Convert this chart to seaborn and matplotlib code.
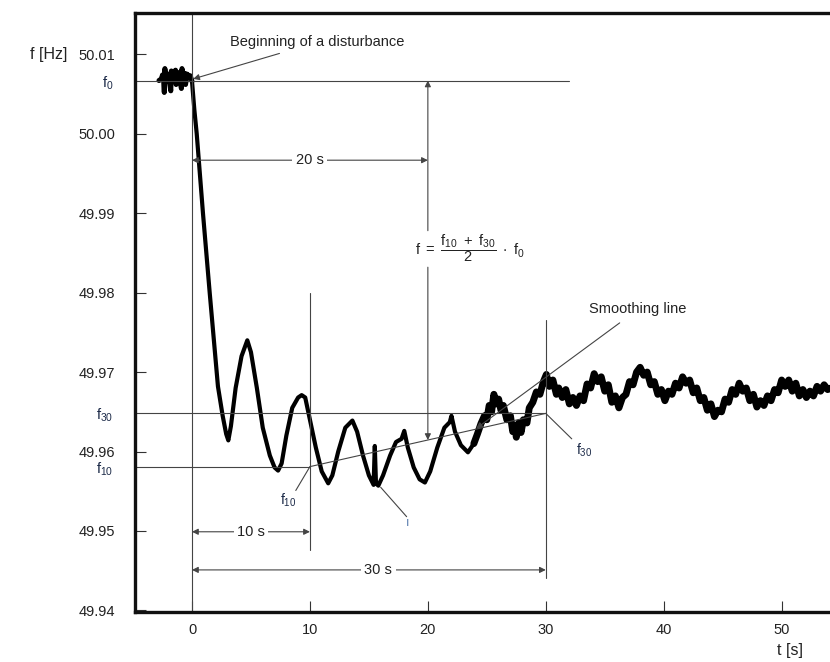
import numpy as np
import pandas as pd
import matplotlib
matplotlib.use("Agg")
import matplotlib.pyplot as plt
import matplotlib.transforms as mtransforms
import seaborn as sns

# ---- data ----
t_s = [-2.8, -2.6, -2.5, -2.4, -2.35, -2.3, -2.2, -2.1, -2.0, -1.9, -1.8, -1.75, -1.6, -1.5,
       -1.4, -1.35, -1.2, -1.1, -1.0, -0.9, -0.85, -0.7, -0.6, -0.55, -0.4, -0.3, -0.15, 0.0,
       0.2, 0.4, 0.93, 1.5, 2.2, 2.6, 2.9, 3.08, 3.3, 3.7, 4.2, 4.69, 5.0, 5.5,
       6.0, 6.6, 7.0, 7.3, 7.6, 8.0, 8.5, 9.0, 9.3, 9.6, 10.0, 10.5, 11.0, 11.55, 11.9, 12.4,
       13.0, 13.6, 14.0, 14.5, 15.0, 15.4, 15.5, 15.6, 15.8, 16.2, 16.8, 17.3, 17.77, 18.0,
       18.3, 18.8, 19.3, 19.75, 20.2, 20.8, 21.4, 21.86, 22.0, 22.3, 22.8, 23.4, 23.9,
       24.2, 24.5, 24.8, 25.0, 25.2, 25.4, 25.6, 25.8, 26.0, 26.2, 26.4, 26.7, 27.0, 27.2,
       27.4, 27.5, 27.7, 27.9, 28.1, 28.4, 28.6, 28.9, 29.2, 29.5, 29.8, 30.05, 30.3, 30.6,
       30.9, 31.1, 31.4, 31.7, 32.0, 32.3, 32.6, 32.9, 33.2, 33.5, 33.8, 34.1, 34.4, 34.7,
       35.0, 35.3, 35.6, 35.9, 36.2, 36.5, 36.8, 37.1, 37.4, 37.7, 38.0, 38.3, 38.6, 38.9,
       39.2, 39.5, 39.8, 40.1, 40.4, 40.7, 41.0, 41.3, 41.6, 41.9, 42.2, 42.5, 42.8, 43.1,
       43.4, 43.7, 44.0, 44.3, 44.6, 44.9, 45.2, 45.5, 45.8, 46.1, 46.4, 46.7, 47.0, 47.3,
       47.6, 47.9, 48.2, 48.5, 48.8, 49.1, 49.4, 49.7, 50.0, 50.3, 50.6, 50.9, 51.2, 51.5,
       51.8, 52.1, 52.4, 52.7, 53.0, 53.3, 53.6, 53.9, 54.5]
f_hz = [50.0067, 50.0069, 50.0074, 50.0068, 50.0052, 50.0082, 50.0066, 50.0070, 50.0075,
        50.0064, 50.0054, 50.0079, 50.0069, 50.0076, 50.0080, 50.0062, 50.0071, 50.0077,
        50.0066, 50.0057, 50.0082, 50.0070, 50.0076, 50.0062, 50.0075, 50.0071, 50.0073,
        50.0066, 50.0030, 50.0000, 49.9900, 49.9800, 49.9682, 49.9645,
        49.9622, 49.9614, 49.9632, 49.9680, 49.9720, 49.9740, 49.9725, 49.9680, 49.9630,
        49.9595, 49.9580, 49.9576, 49.9585, 49.9620, 49.9655, 49.9668, 49.9671, 49.9668,
        49.9640, 49.9605, 49.9575, 49.9560, 49.9570, 49.9600, 49.9630, 49.9639, 49.9625,
        49.9595, 49.9570, 49.9558, 49.9607, 49.9560, 49.9557, 49.9570, 49.9595, 49.9612,
        49.9616, 49.9626, 49.9605, 49.9580, 49.9565, 49.9561, 49.9575, 49.9605, 49.9630,
        49.9637, 49.9645, 49.9625, 49.9608, 49.9599, 49.9610,
        49.9622, 49.9635, 49.9645, 49.9640, 49.9658, 49.9650, 49.9672, 49.9660, 49.9666,
        49.9652, 49.9658, 49.9640, 49.9645, 49.9625, 49.9632, 49.9618, 49.9636, 49.9624,
        49.9640, 49.9636, 49.9655, 49.9662, 49.9675, 49.9672, 49.9688, 49.9697, 49.9682,
        49.9690, 49.9672, 49.9680, 49.9668, 49.9678, 49.9660, 49.9668, 49.9658, 49.9670,
        49.9664, 49.9685, 49.9680, 49.9698, 49.9688, 49.9694, 49.9676, 49.9684, 49.9662,
        49.9670, 49.9655, 49.9668, 49.9672, 49.9688, 49.9684, 49.9700, 49.9706, 49.9696,
        49.9700, 49.9684, 49.9688, 49.9672, 49.9678, 49.9664, 49.9676, 49.9672, 49.9686,
        49.9680, 49.9694, 49.9686, 49.9690, 49.9674, 49.9680, 49.9664, 49.9668, 49.9652,
        49.9660, 49.9644, 49.9652, 49.9650, 49.9666, 49.9662, 49.9678, 49.9672, 49.9686,
        49.9676, 49.9680, 49.9664, 49.9672, 49.9656, 49.9664, 49.9658, 49.9670, 49.9664,
        49.9678, 49.9674, 49.9690, 49.9682, 49.9690, 49.9676, 49.9686, 49.9670, 49.9678,
        49.9668, 49.9676, 49.9670, 49.9682, 49.9676, 49.9684, 49.9678, 49.9682]

y_ticks = [49.94, 49.95, 49.96, 49.97, 49.98, 49.99, 50.00, 50.01]
x_ticks = [0, 10, 20, 30, 40, 50]
f0 = 50.0067
f30 = 49.9648
f10 = 49.9581

df = pd.DataFrame({"t": t_s, "f": f_hz})

# ---- style ----
sns.set_style("ticks")
plt.rcParams["font.family"] = ["Liberation Sans", "DejaVu Sans"]
plt.rcParams["mathtext.fontset"] = "custom"
plt.rcParams["mathtext.rm"] = "Liberation Sans"
plt.rcParams["mathtext.it"] = "Liberation Sans"
plt.rcParams["mathtext.bf"] = "Liberation Sans:bold"

txt_c = "#222222"
lab_c = "#1c2a48"
ln_c = "#444444"

fig = plt.figure(figsize=(8.3, 6.62), dpi=100)
ax = fig.add_axes([0.1627, 0.0755, 0.8373, 0.9049])

sns.lineplot(data=df, x="t", y="f", ax=ax, color="black", lw=3.0, estimator=None,
             sort=False, legend=False)
# the noisy (thicker) parts of the recorded trace
sns.lineplot(data=df[df["t"] >= 23.5], x="t", y="f", ax=ax, color="black", lw=5.0,
             estimator=None, sort=False, legend=False)
sns.lineplot(data=df[df["t"] <= 0], x="t", y="f", ax=ax, color="black", lw=3.6,
             estimator=None, sort=False, legend=False)

xmin, xmax = -4.83, 54.1
ymin, ymax = 49.9398, 50.0152
ax.set_xlim(xmin, xmax)
ax.set_ylim(ymin, ymax)

ax.set_xticks(x_ticks)
ax.set_xticklabels([str(v) for v in x_ticks], fontsize=10.5, color=txt_c)
ax.set_yticks(y_ticks)
ax.set_yticklabels([f"{v:.2f}" for v in y_ticks], fontsize=10.5, color=txt_c)
ax.tick_params(axis="both", direction="in", length=8, width=0.8, color="#333333")
ax.tick_params(axis="y", pad=14)
ax.tick_params(axis="x", pad=8)
ax.set_xlabel("")
ax.set_ylabel("")

for s in ["left", "bottom", "top"]:
    ax.spines[s].set_linewidth(2.4)
    ax.spines[s].set_color("#111111")
ax.spines["right"].set_visible(False)

# reference lines
lw_ref = 0.8
ax.axvline(0, color=ln_c, lw=lw_ref)
ax.plot([10, 10], [49.9476, 49.9800], color=ln_c, lw=lw_ref)
ax.plot([30, 30], [49.9441, 49.97655], color=ln_c, lw=lw_ref)
ax.plot([xmin, 32.0], [f0, f0], color=ln_c, lw=lw_ref)
ax.plot([xmin, 30], [f30, f30], color=ln_c, lw=lw_ref)
ax.plot([xmin, 10], [f10, f10], color=ln_c, lw=lw_ref)
# smoothing line
ax.plot([10, 30], [f10, f30], color=ln_c, lw=lw_ref)

# f labels on the y axis
trans = mtransforms.blended_transform_factory(ax.transAxes, ax.transData)
for val, lab in [(f0, r"$\mathregular{f_{0}}$"), (f30, r"$\mathregular{f_{30}}$"),
                 (f10, r"$\mathregular{f_{10}}$")]:
    ax.text(-0.031, val - 0.0003, lab, transform=trans, ha="right", va="center",
            fontsize=10.5, color=lab_c, clip_on=False)

arrow_kw = dict(arrowstyle="<|-|>", color=ln_c, lw=0.8, mutation_scale=9,
                shrinkA=0, shrinkB=0)

def dim_arrow(x0, x1, y, label, xl):
    ax.annotate("", xy=(x1, y), xytext=(x0, y), arrowprops=arrow_kw)
    ax.text(xl, y, label, ha="center", va="center", fontsize=10.5, color=txt_c,
            bbox=dict(facecolor="white", edgecolor="none", pad=2.5))

dim_arrow(0, 20, 49.99667, "20 s", 10)
dim_arrow(0, 10, 49.9499, "10 s", 5)
dim_arrow(0, 30, 49.9451, "30 s", 15.8)

# vertical arrow at x = 20
one_kw = dict(arrowstyle="-|>", color=ln_c, lw=0.8, mutation_scale=9, shrinkA=0, shrinkB=0)
ax.annotate("", xy=(20, f0), xytext=(20, 49.9878), arrowprops=one_kw)
ax.annotate("", xy=(20, 49.96145), xytext=(20, 49.9832), arrowprops=one_kw)

ax.text(18.9, 49.9856,
        r"$\mathregular{f\ =\ \dfrac{f_{10}\ +\ f_{30}}{2}\ \cdot\ f_{0}}$",
        ha="left", va="center", fontsize=10.5, color=txt_c)

# annotations
ax.annotate("Beginning of a disturbance", xy=(0.1, 50.0069), xytext=(3.2, 50.0115),
            fontsize=10.5, color=txt_c, ha="left", va="center",
            arrowprops=dict(arrowstyle="-|>", color=ln_c, lw=0.8, mutation_scale=9,
                            shrinkA=2, shrinkB=0))
ax.annotate("Smoothing line", xy=(24.1, 49.9629), xytext=(33.7, 49.9779),
            fontsize=10.5, color=txt_c, ha="left", va="center",
            arrowprops=dict(arrowstyle="-|>", color=ln_c, lw=0.8, mutation_scale=9,
                            shrinkA=4, shrinkB=0))
ax.plot([30, 32.2], [f30, 49.9616], color=ln_c, lw=lw_ref)
ax.text(32.6, 49.9602, r"$\mathregular{f_{30}}$", fontsize=10, color=lab_c,
        ha="left", va="center")
ax.plot([10, 8.8], [f10, 49.9551], color=ln_c, lw=lw_ref)
ax.text(8.2, 49.9538, r"$\mathregular{f_{10}}$", fontsize=10, color=lab_c,
        ha="center", va="center")
ax.plot([16.0, 18.2], [49.9555, 49.9518], color=ln_c, lw=lw_ref)
ax.text(18.3, 49.9510, "ı", fontsize=9, color="#5b7fb0", ha="center", va="center")

# axis titles
fig.text(0.036, 0.917, "f [Hz]", fontsize=11.5, color=txt_c, ha="left", va="center")
fig.text(0.952, 0.018, "t [s]", fontsize=11.5, color=txt_c, ha="center", va="center")

fig.savefig("out.png", dpi=100)
